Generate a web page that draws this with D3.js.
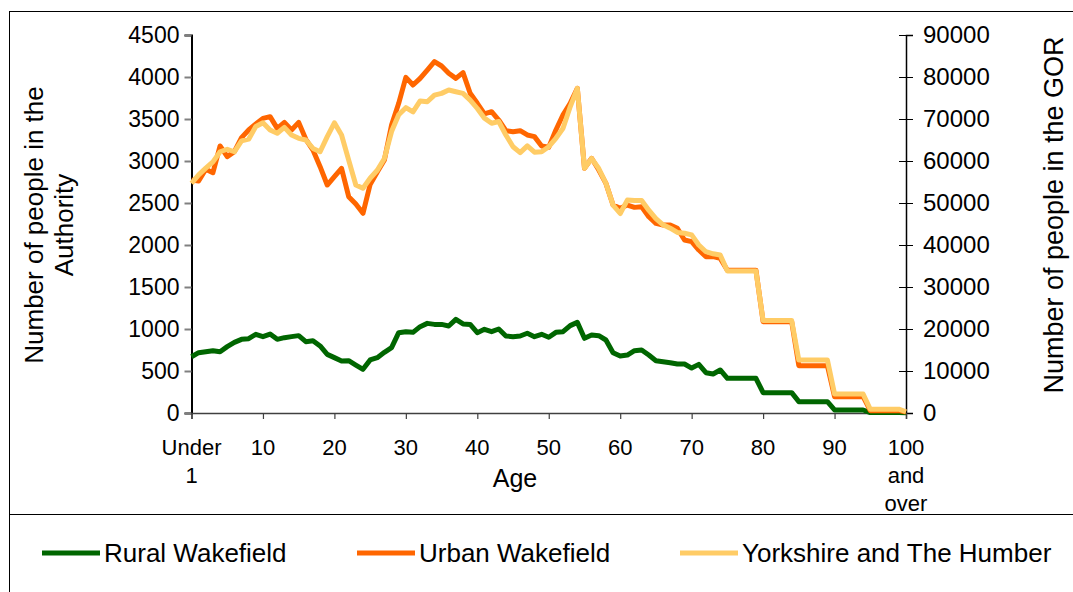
<!DOCTYPE html>
<html><head><meta charset="utf-8">
<script src="https://cdn.jsdelivr.net/npm/d3@7/dist/d3.min.js"></script>
<style>
html,body{margin:0;padding:0;background:#fff;}
text{font-family:"Liberation Sans",Arial,sans-serif;fill:#000;}
</style></head>
<body>
<svg id="c" width="1073" height="592"></svg>
<script>
const categories = ["Under 1","1","2","3","4","5","6","7","8","9","10","11","12","13","14","15","16","17","18","19","20","21","22","23","24","25","26","27","28","29","30","31","32","33","34","35","36","37","38","39","40","41","42","43","44","45","46","47","48","49","50","51","52","53","54","55","56","57","58","59","60","61","62","63","64","65","66","67","68","69","70","71","72","73","74","75","76","77","78","79","80","81","82","83","84","85","86","87","88","89","90","91","92","93","94","95","96","97","98","99","100 and over"];

const ruralWakefield = [670,718,730,742,730,790,841,877,885,937,909,940,877,897,909,921,849,861,798,698,659,619,623,571,520,631,659,722,778,956,968,960,1028,1067,1055,1055,1036,1115,1060,1055,956,996,968,1000,917,909,917,949,909,937,901,960,968,1040,1079,889,929,921,869,718,679,690,742,750,690,623,611,599,583,583,535,579,480,464,512,413,413,413,413,413,242,242,242,242,242,135,135,135,135,135,36,36,36,36,36,5,5,5,5,5,2];

const urbanWakefield = [2774,2762,2901,2861,3179,3052,3111,3278,3369,3440,3508,3528,3389,3460,3369,3460,3258,3131,2932,2714,2813,2913,2575,2488,2377,2720,2870,3012,3429,3687,3996,3905,3984,4083,4183,4131,4044,3984,4052,3806,3687,3560,3587,3488,3361,3349,3361,3310,3290,3179,3163,3369,3550,3687,3865,2913,3032,2893,2734,2476,2437,2476,2448,2456,2337,2258,2238,2238,2198,2060,2040,1940,1861,1861,1841,1700,1700,1700,1700,1700,1087,1087,1087,1087,1087,563,563,563,563,563,194,194,194,194,194,28,28,28,28,28,12];

const yorkshireHumber = [54700,56700,58300,59800,62200,62800,62200,64800,65200,68200,69100,67400,66600,68000,66200,65400,65000,63000,62200,65800,69100,66200,60200,54300,53500,55900,57800,60600,67000,71000,72700,71700,74300,74100,75700,76100,76900,76500,76100,74500,72500,70200,69000,69400,66200,63400,62000,63600,62100,62200,63400,65400,67800,72900,77300,58300,60600,58200,54700,49500,47500,50700,50600,50600,48300,46300,44800,44000,43000,42800,42400,40000,38400,37900,37600,33800,33800,33800,33800,33800,22000,22000,22000,22000,22000,12600,12600,12600,12600,12600,4500,4500,4500,4500,4500,900,900,900,900,900,300];

const leftTicks = [0,500,1000,1500,2000,2500,3000,3500,4000,4500];
const rightTicks = [0,10000,20000,30000,40000,50000,60000,70000,80000,90000];
const xTickLabels = ["Under 1","10","20","30","40","50","60","70","80","90","100 and over"];
const seriesNames = ["Rural Wakefield","Urban Wakefield","Yorkshire and The Humber"];
const seriesColors = ["#006600","#FF6600","#FFCC66"];

const svg = d3.select("#c");
const W = 1073, H = 592;
const plot = {left:191.5, right:906, top:35, bottom:413};

// frame
svg.append("rect").attr("x",9.5).attr("y",11.5).attr("width",1080).attr("height",600)
  .attr("fill","none").attr("stroke","#000").attr("stroke-width",1);
svg.append("line").attr("x1",9.5).attr("x2",W).attr("y1",514.5).attr("y2",514.5)
  .attr("stroke","#000").attr("stroke-width",1);

const x = d3.scalePoint().domain(categories).range([plot.left, plot.right]);
const yL = d3.scaleLinear().domain([0,4500]).range([plot.bottom, plot.top]);
const yR = d3.scaleLinear().domain([0,90000]).range([plot.bottom, plot.top]);

const FS = 22;   // tick labels
const FT = 26;   // titles & legend

// left axis
const gL = svg.append("g").attr("transform",`translate(${plot.left},0)`)
  .call(d3.axisLeft(yL).tickValues(leftTicks).tickSize(7).tickPadding(5).tickFormat(d3.format("d")));
gL.select(".domain").attr("stroke","#000").attr("stroke-width",2);
gL.selectAll(".tick line").attr("stroke","#808080").attr("stroke-width",2);
gL.selectAll(".tick text").attr("font-size",FS+1).attr("font-family","Liberation Sans, Arial, sans-serif");

// right axis
const gR = svg.append("g").attr("transform",`translate(${plot.right},0)`)
  .call(d3.axisRight(yR).tickValues(rightTicks).tickSize(7).tickPadding(10).tickFormat(d3.format("d")));
gR.select(".domain").attr("stroke","#000").attr("stroke-width",1.5);
gR.selectAll(".tick line").attr("x1",-7).attr("x2",7).attr("stroke","#000").attr("stroke-width",1);
gR.selectAll(".tick text").attr("font-size",FS+2).attr("font-family","Liberation Sans, Arial, sans-serif");

// bottom axis
const gB = svg.append("g").attr("transform",`translate(0,${plot.bottom})`)
  .call(d3.axisBottom(x).tickValues(xTickLabels).tickSize(6).tickFormat(""));
gB.select(".domain").attr("stroke","#404040").attr("stroke-width",1.5);
gB.selectAll(".tick line").attr("stroke","#404040").attr("stroke-width",1.2);
xTickLabels.forEach(lab => {
  const words = lab === "Under 1" ? ["Under","1"] : lab.split(" ");
  const t = svg.append("text").attr("x",x(lab)).attr("y",455).attr("text-anchor","middle").attr("font-size",FS);
  words.forEach((w,i)=> t.append("tspan").attr("x",x(lab)).attr("dy", i===0?0:28).text(w));
});

// axis titles
svg.append("text").attr("x",515).attr("y",487).attr("text-anchor","middle").attr("font-size",FT-1).text("Age");
const lt = svg.append("text").attr("transform","translate(43,225) rotate(-90)").attr("text-anchor","middle").attr("font-size",FT);
lt.append("tspan").attr("x",0).attr("dy",0).text("Number of people in the");
lt.append("tspan").attr("x",0).attr("dy",30).text("Authority");
svg.append("text").attr("transform","translate(1063,215) rotate(-90)").attr("text-anchor","middle").attr("font-size",FT+1)
  .text("Number of people in the GOR");

// series
const lineL = d3.line().x((d,i)=>x(categories[i])).y(d=>yL(d));
const lineR = d3.line().x((d,i)=>x(categories[i])).y(d=>yR(d));
const series = [
  {vals:ruralWakefield, gen:lineL},
  {vals:urbanWakefield, gen:lineL},
  {vals:yorkshireHumber, gen:lineR}
];
series.forEach((s,k)=>{
  svg.append("path").attr("d",s.gen(s.vals)).attr("fill","none")
    .attr("stroke",seriesColors[k]).attr("stroke-width",5)
    .attr("stroke-linejoin","round").attr("stroke-linecap","butt");
});

// legend
const legX = [42,357,680];
seriesNames.forEach((n,k)=>{
  svg.append("line").attr("x1",legX[k]).attr("x2",legX[k]+58).attr("y1",553).attr("y2",553)
    .attr("stroke",seriesColors[k]).attr("stroke-width",5);
  svg.append("text").attr("x",legX[k]+62).attr("y",562).attr("font-size",FT).text(n);
});
</script>
</body></html>
